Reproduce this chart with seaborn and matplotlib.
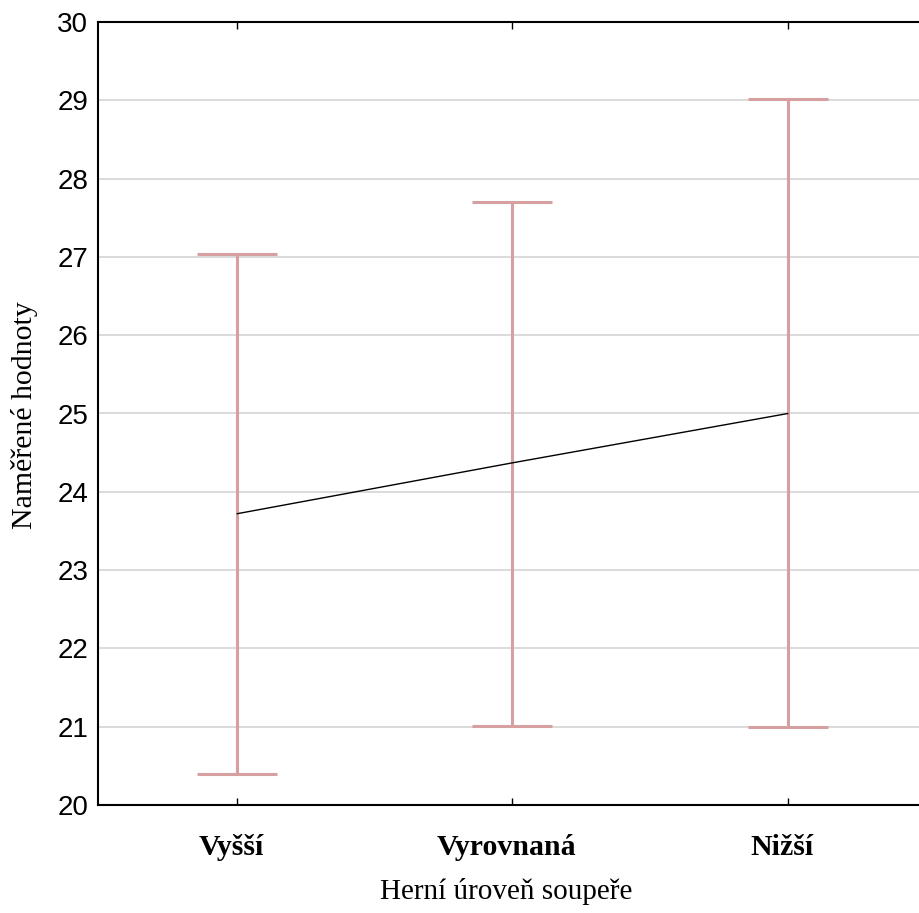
import matplotlib
matplotlib.use("Agg")
import matplotlib.pyplot as plt
import matplotlib.transforms as mtransforms
import seaborn as sns
import pandas as pd
import numpy as np

categories = ["Vyšší", "Vyrovnaná", "Nižší"]
means = [23.72, 24.37, 25.00]
lower = [20.40, 21.01, 20.99]
upper = [27.04, 27.70, 29.02]

df = pd.DataFrame({"cat": categories, "mean": means, "lo": lower, "hi": upper})

sns.set_style("white")
plt.rcParams["font.family"] = ["Liberation Sans", "DejaVu Sans"]
plt.rcParams["text.color"] = "black"
plt.rcParams["axes.labelcolor"] = "black"
plt.rcParams["xtick.color"] = "black"
plt.rcParams["ytick.color"] = "black"

fig = plt.figure(figsize=(9.19, 9.13), dpi=100)
ax = fig.add_axes([98 / 919, 108 / 913, 1 - 98 / 919, (805 - 22) / 913])

x = np.arange(len(categories))
err_col = "#d6a0a0"
ax.errorbar(x, df["mean"], yerr=[df["mean"] - df["lo"], df["hi"] - df["mean"]],
            fmt="none", ecolor=err_col, elinewidth=2.2, capsize=28.5, capthick=2.2, zorder=2)
sns.lineplot(data=df, x="cat", y="mean", color="black", linewidth=1.0, sort=False, ax=ax, zorder=3)

ax.set_xlim(-0.505, 2.476)
ax.set_ylim(20, 30)
ax.set_yticks(range(20, 31))
ax.set_xticks(x)
ax.set_xticklabels(categories, fontfamily="Liberation Serif", fontweight="bold", fontsize=21.5, color="black")
ax.tick_params(axis="y", labelsize=20, direction="in", length=4, width=1.0, pad=7, labelcolor="black")
ax.tick_params(axis="x", direction="in", length=5, width=1.0, pad=21, top=True, bottom=True)
ax.yaxis.grid(True, color="#dadada", linewidth=1.4)
ax.xaxis.grid(False)
ax.set_axisbelow(True)

for side in ["left", "bottom", "top"]:
    ax.spines[side].set_color("black")
    ax.spines[side].set_linewidth(1.5)
ax.spines["right"].set_visible(False)

shift = mtransforms.ScaledTranslation(-6 / 100, 0, fig.dpi_scale_trans)
for lab in ax.get_xticklabels():
    lab.set_transform(lab.get_transform() + shift)

ax.set_xlabel("Herní úroveň soupeře", fontfamily="Liberation Serif", fontsize=21, color="black")
ax.set_ylabel("Naměřené hodnoty", fontfamily="Liberation Serif", fontsize=21.5, color="black")
ax.xaxis.set_label_coords((506 - 98) / (919 - 98), (805 - 878) / 783)
ax.yaxis.set_label_coords((38 - 98) / 821, (805 - 415) / 783)

fig.savefig("out.png", dpi=100)
